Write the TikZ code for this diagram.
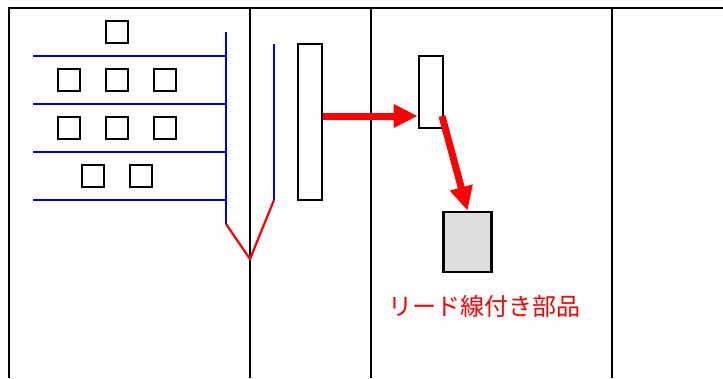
\documentclass[tikz,border=0pt]{standalone}
\usepackage{fontspec}
\newfontfamily\cjk{Noto Sans CJK JP}
\usetikzlibrary{arrows.meta}
\begin{document}
\begin{tikzpicture}[x=1pt,y=-1pt,
  frame/.style={line width=2.8pt,black},
  sq/.style={draw,line width=2.6pt,minimum width=22pt,minimum height=22pt,inner sep=0pt},
  bar/.style={draw,line width=2.6pt,inner sep=0pt},
  bl/.style={blue,line width=2.2pt},
  rl/.style={red,line width=2.2pt},
  bigarrow/.style={red,line width=7pt,-{Triangle[length=24pt,width=22pt]}},
  lbl/.style={text=red,font=\cjk\fontsize{24}{28}\selectfont,inner sep=0pt}
]
\useasboundingbox (0,0) rectangle (723,378);
% frame
\draw[frame] (9,378) -- (9,8) -- (723,8);
\draw[frame] (250,8) -- (250,378);
\draw[frame] (371,8) -- (371,378);
\draw[frame] (612,8) -- (612,378);
% small squares
\node[sq] (s1) at (117,32) {};
\node[sq] (s21) at (69,80) {};
\node[sq] (s22) at (117,80) {};
\node[sq] (s23) at (165,80) {};
\node[sq] (s31) at (69,128) {};
\node[sq] (s32) at (117,128) {};
\node[sq] (s33) at (165,128) {};
\node[sq] (s41) at (93,176) {};
\node[sq] (s42) at (141,176) {};
% blue lines
\foreach \yy in {56,104,152,200} \draw[bl] (33,\yy) -- (226,\yy);
\coordinate (b1top) at (226,32);
\coordinate (b1bot) at (226,224);
\coordinate (b2top) at (274,44);
\coordinate (b2bot) at (274,200);
\coordinate (vtip) at (250,259);
\draw[bl] (b1top) -- (b1bot);
\draw[bl] (b2top) -- (b2bot);
\draw[rl,line join=miter] (b1bot) -- (vtip) -- (b2bot);
% bars
\node[bar,minimum width=24pt,minimum height=156pt] (tall) at (310,122) {};
\node[bar,minimum width=24pt,minimum height=72pt] (small) at (431,92) {};
\node[bar,fill={rgb,255:red,222;green,222;blue,222},minimum width=48pt,minimum height=60pt] (part) at (467.5,242) {};
% arrows
\draw[bigarrow] (tall.east |- 0,116) -- (small.west |- 0,116);
\coordinate (a2s) at (442,116);
\draw[bigarrow] (a2s) -- (part.north);
% label
\node[lbl] (txt) at (484,306) {リード線付き部品};
\end{tikzpicture}
\end{document}
